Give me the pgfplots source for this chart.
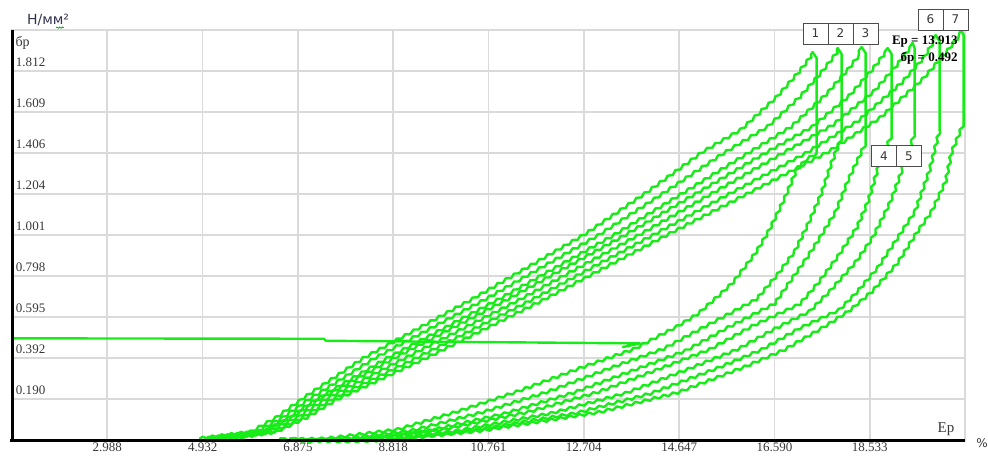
\documentclass[border=0pt]{standalone}
\usepackage{fontspec}
\setmainfont{Liberation Serif}
\newfontfamily\uisans{DejaVu Sans}
\usepackage{pgfplots}
\pgfplotsset{compat=1.18}
\usetikzlibrary{decorations.pathmorphing}

\definecolor{trace}{RGB}{24,236,24}
\definecolor{gridgray}{RGB}{218,218,218}
\definecolor{labelgray}{RGB}{55,55,55}

\tikzset{
  wavy/.style={decorate, decoration={snake, amplitude=0.65pt, segment length=4.8pt}},
  numbox/.style={draw=black!70, fill=white, line width=0.5pt, minimum width=12.5pt,
    minimum height=10.5pt, inner sep=0pt, text=labelgray,
    font=\uisans\fontsize{6}{6}\selectfont},
}

\begin{document}
\begin{tikzpicture}
\begin{axis}[
  scale only axis, width=476.5pt, height=205pt,
  xmin=1.045, xmax=20.476, ymin=-0.0128, ymax=2.0152,
  xtick={2.988,4.932,6.875,8.818,10.761,12.704,14.647,16.590,18.533},
  xticklabels={2.988,4.932,6.875,8.818,10.761,12.704,14.647,16.590,18.533},
  ytick={0.190,0.3928,0.5956,0.7984,1.0012,1.2040,1.4068,1.6096,1.8124},
  yticklabels={0.190,0.392,0.595,0.798,1.001,1.204,1.406,1.609,1.812},
  grid=major, major grid style={gridgray, line width=0.8pt},
  axis line style={gridgray, line width=0.8pt},
  tick style={draw=none},
  xticklabel style={font=\fontsize{6.5}{7}\selectfont, text=labelgray, inner sep=0pt, yshift=-1pt},
  yticklabel style={font=\fontsize{6.5}{7}\selectfont, text=labelgray, anchor=south west,
    inner sep=0pt, xshift=1.8pt, yshift=2.2pt},
  clip=false,
  every axis plot/.append style={trace, line width=1.2pt, line join=round, line cap=round, mark=none},
]

% cursor trace at the held stress level
\addplot[sharp plot] coordinates {(1.045,0.490) (7.40,0.488) (7.45,0.478) (13.85,0.465) (13.50,0.447)};

% ---- cycle 1: loading, peak and drop, unloading ----
\addplot[wavy] coordinates {(4.876,-0.005) (5.896,0.027) (6.405,0.096) (6.914,0.185) (8.198,0.392) (10.379,0.679) (12.682,1.001) (13.946,1.209) (15.067,1.406) (15.882,1.520) (16.554,1.669) (17.003,1.792) (17.370,1.906)};
\addplot[sharp plot] coordinates {(17.370,1.906) (17.451,1.876) (17.451,1.4065)};
\addplot[wavy] coordinates {(17.451,1.4065) (17.288,1.3817) (17.105,1.3323) (16.860,1.1888) (16.534,1.0256) (16.289,0.9267) (15.821,0.7783) (15.535,0.7140) (15.067,0.6151) (14.659,0.5557) (13.803,0.4470) (12.764,0.3579) (11.398,0.2343) (10.175,0.1354) (8.952,0.0464) (7.526,0.0018) (6.507,-0.005)};

% ---- cycle 2 ----
\addplot[wavy] coordinates {(4.999,-0.005) (5.977,0.027) (6.507,0.096) (7.037,0.185) (8.402,0.392) (10.623,0.679) (12.967,1.001) (14.292,1.209) (15.515,1.406) (16.361,1.530) (17.063,1.688) (17.512,1.812) (17.880,1.926)};
\addplot[sharp plot] coordinates {(17.880,1.926) (17.960,1.896) (17.960,1.4856)};
\addplot[wavy] coordinates {(17.960,1.4856) (17.777,1.3718) (17.573,1.2235) (17.308,1.0751) (17.043,0.9415) (16.697,0.8278) (16.228,0.6942) (15.148,0.5557) (14.312,0.4470) (13.293,0.3579) (11.948,0.2343) (10.644,0.1354) (9.238,0.0464) (7.770,0.0018) (6.711,-0.005)};

% ---- cycle 3 ----
\addplot[wavy] coordinates {(5.121,-0.005) (6.059,0.027) (6.609,0.096) (7.159,0.185) (8.627,0.392) (10.868,0.679) (13.252,1.001) (14.659,1.209) (15.984,1.406) (16.839,1.533) (17.553,1.693) (18.001,1.817) (18.368,1.931)};
\addplot[sharp plot] coordinates {(18.368,1.931) (18.450,1.901) (18.450,1.4559)};
\addplot[wavy] coordinates {(18.450,1.4559) (18.123,1.2878) (17.858,1.1245) (17.573,1.0108) (17.308,0.9119) (16.962,0.7932) (16.636,0.6794) (15.637,0.5557) (14.822,0.4470) (13.844,0.3579) (12.478,0.2343) (11.133,0.1354) (9.523,0.0464) (7.995,0.0018) (6.914,-0.005)};

% ---- cycle 4 ----
\addplot[wavy] coordinates {(5.233,-0.005) (6.150,0.027) (6.711,0.096) (7.271,0.185) (8.830,0.392) (11.113,0.679) (13.538,1.001) (15.005,1.209) (16.391,1.406) (17.308,1.530) (18.082,1.688) (18.531,1.812) (18.898,1.926)};
\addplot[sharp plot] coordinates {(18.898,1.926) (18.980,1.896) (18.980,1.4955)};
\addplot[wavy] coordinates {(18.980,1.4955) (18.735,1.3570) (18.531,1.1888) (18.266,1.0405) (17.920,0.9119) (17.512,0.7783) (17.105,0.6646) (16.136,0.5557) (15.321,0.4470) (14.373,0.3579) (13.028,0.2343) (11.602,0.1354) (9.819,0.0464) (8.239,0.0018) (7.118,-0.005)};

% ---- cycle 5 ----
\addplot[wavy] coordinates {(5.345,-0.005) (6.242,0.027) (6.812,0.096) (7.383,0.185) (9.034,0.392) (11.357,0.679) (13.803,1.001) (15.311,1.209) (16.737,1.406) (17.736,1.543) (18.592,1.713) (19.040,1.837) (19.407,1.951)};
\addplot[sharp plot] coordinates {(19.407,1.951) (19.449,1.925) (19.449,1.5054)};
\addplot[wavy] coordinates {(19.449,1.5054) (19.142,1.2878) (18.939,1.1592) (18.592,0.9910) (18.266,0.8772) (17.777,0.7437) (17.370,0.6448) (16.636,0.5557) (15.821,0.4470) (14.903,0.3579) (13.579,0.2343) (12.070,0.1354) (10.114,0.0464) (8.484,0.0018) (7.322,-0.005)};

% ---- cycle 6 ----
\addplot[wavy] coordinates {(5.467,-0.005) (6.323,0.027) (6.914,0.096) (7.505,0.185) (9.258,0.392) (11.602,0.679) (14.088,1.001) (15.678,1.209) (17.206,1.406) (18.246,1.562) (19.142,1.753) (19.591,1.876) (19.876,1.990)};
\addplot[sharp plot] coordinates {(19.876,1.990) (19.958,1.960) (19.958,1.5202)};
\addplot[wavy] coordinates {(19.958,1.5202) (19.754,1.3224) (19.489,1.1394) (19.142,1.0108) (18.735,0.8624) (18.266,0.7289) (17.920,0.6448) (17.125,0.5557) (16.330,0.4470) (15.454,0.3579) (14.109,0.2343) (12.560,0.1354) (10.399,0.0464) (8.708,0.0018) (7.526,-0.005)};

% ---- cycle 7 ----
\addplot[wavy] coordinates {(5.590,-0.005) (6.405,0.027) (7.016,0.096) (7.628,0.185) (9.462,0.392) (11.846,0.679) (14.373,1.001) (16.045,1.209) (17.614,1.406) (18.673,1.575) (19.591,1.777) (20.039,1.901) (20.406,2.012)};
\addplot[sharp plot] coordinates {(20.406,2.012) (20.447,1.990) (20.447,1.5548)};
\addplot[wavy] coordinates {(20.447,1.5548) (20.222,1.4213) (20.100,1.2729) (19.815,1.1245) (19.489,1.0108) (19.142,0.8772) (18.592,0.7289) (18.184,0.6448) (17.614,0.5557) (16.839,0.4470) (15.984,0.3579) (14.659,0.2343) (13.028,0.1354) (10.685,0.0464) (8.952,0.0018) (7.730,-0.005)};
\end{axis}

% axis lines
\draw[black, line width=1.5pt] ([xshift=-1pt]current axis.south west) -- (current axis.south east);
\draw[black, line width=1.5pt] (current axis.south west) -- (current axis.north west);

\coordinate (O) at (current axis.north west);

% units and axis names
\node[font=\uisans\fontsize{7}{7}\selectfont, text={rgb,255:red,50;green,50;blue,80}] at ([shift={(18pt,5pt)}]O) {Н/мм²};
\draw[green!55!black, line width=0.3pt, decorate, decoration={snake, amplitude=0.35pt, segment length=1.4pt}]
  ([shift={(22pt,1.2pt)}]O) -- ([shift={(26pt,1.2pt)}]O);
\node[anchor=base west, inner sep=0pt, font=\fontsize{7}{7}\selectfont, text=labelgray] at ([shift={(1.6pt,-8pt)}]O) {бр};
\node[inner sep=0pt, font=\fontsize{7.5}{8}\selectfont, text=labelgray] at ([shift={(467pt,-199.5pt)}]O) {Ep};
\node[inner sep=0pt, font=\uisans\fontsize{6}{6}\selectfont, text=labelgray] at ([shift={(485pt,-206.5pt)}]O) {\%};

% cursor readout
\node[anchor=east, inner sep=0pt, font=\bfseries\fontsize{6.5}{7}\selectfont] at ([shift={(473pt,-6pt)}]O) {Ep = 13.913};
\node[anchor=east, inner sep=0pt, font=\bfseries\fontsize{6.5}{7}\selectfont] at ([shift={(473pt,-14pt)}]O) {бр = 0.492};

% cycle numbers
\node[numbox] at ([shift={(401.75pt,-1.75pt)}]O) {1};
\node[numbox] at ([shift={(414.25pt,-1.75pt)}]O) {2};
\node[numbox] at ([shift={(426.75pt,-1.75pt)}]O) {3};
\node[numbox] at ([shift={(436pt,-63pt)}]O) {4};
\node[numbox] at ([shift={(448.5pt,-63pt)}]O) {5};
\node[numbox] at ([shift={(459.25pt,5.25pt)}]O) {6};
\node[numbox] at ([shift={(471.75pt,5.25pt)}]O) {7};

\pgfresetboundingbox
\path ([shift={(-6pt,-7.5pt)}]current axis.south west) rectangle ([shift={(11.5pt,15pt)}]current axis.north east);
\end{tikzpicture}
\end{document}
